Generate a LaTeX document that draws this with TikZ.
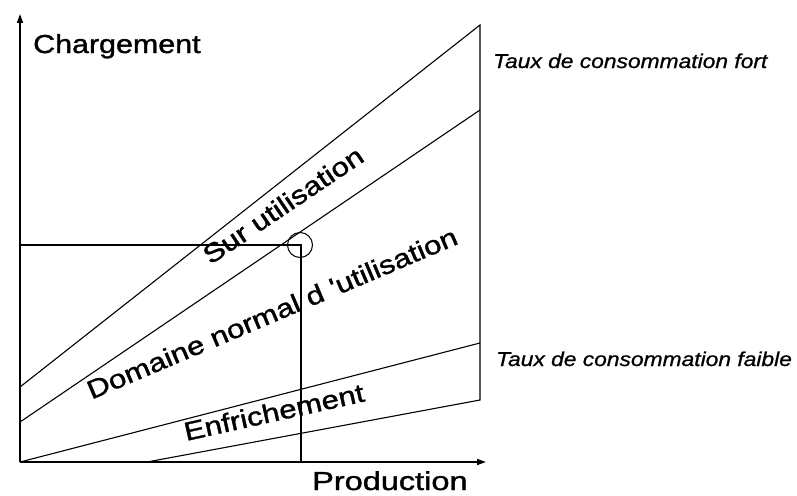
\documentclass[tikz,border=0pt]{standalone}
\usepackage{fontspec}
\setmainfont{Liberation Sans}
\newfontfamily\heavysans[FakeBold=1.2]{Liberation Sans}
\newfontfamily\heavyitalic[FakeBold=0.8]{Liberation Sans Italic}
\usetikzlibrary{arrows.meta}
\begin{document}
\begin{tikzpicture}[x=1pt,y=-1pt,
  thinline/.style={line width=1.1pt, black},
  axis/.style={line width=1.4pt, -{Triangle[length=9pt,width=6pt]}},
  biglabel/.style={inner sep=0pt, font=\heavysans\fontsize{26}{30}\selectfont},
  ratelabel/.style={inner sep=0pt, font=\heavyitalic\fontsize{20}{24}\selectfont},
]
\useasboundingbox (0,0) rectangle (797,495);
% axes
\coordinate (O) at (20,462);
\coordinate (Ytip) at (20,14);
\coordinate (Xtip) at (486,462);
% consumption lines
\coordinate (A1) at (20,387);
\coordinate (B1) at (480,25);
\coordinate (A2) at (20,422);
\coordinate (B2) at (480,110);
\coordinate (B3) at (480,343);
\coordinate (A4) at (147,462);
\coordinate (B4) at (480,400);
% operating point
\coordinate (H) at (20,245);
\coordinate (P) at (301,245);
\coordinate (V) at (301,462);

\draw[axis] (O) -- (Ytip);
\draw[axis] (O) -- (Xtip);
\draw[thinline] (A1) -- (B1) -- (B4) -- (A4);
\draw[thinline] (A2) -- (B2);
\draw[thinline] (O) -- (B3);
\draw[thinline] (H) -- (P) -- (V);
\node[draw, circle, line width=1pt, minimum size=25pt, inner sep=0pt] (pt) at (300,245) {};

% axis titles
\node[biglabel, anchor=base west] (ylab) at (33,53) {\scalebox{1.17}[1]{Chargement}};
\node[biglabel, anchor=base west] (xlab) at (312,490) {\scalebox{1.25}[1]{Production}};

% rate labels
\node[ratelabel, anchor=base west] (fort) at (493,68) {\scalebox{1.14}[1]{Taux de consommation fort}};
\node[ratelabel, anchor=base west] (faible) at (496,366) {\scalebox{1.14}[1]{Taux de consommation faible}};

% zone labels
\node[biglabel, rotate=34] (sur) at (283,205) {\scalebox{1.2}[1]{Sur utilisation}};
\node[biglabel, rotate=23] (dom) at (272,313) {\scalebox{1.2}[1]{Domaine normal d 'utilisation}};
\node[biglabel, rotate=12.5] (enf) at (274,412) {\scalebox{1.2}[1]{Enfrichement}};
\end{tikzpicture}
\end{document}
